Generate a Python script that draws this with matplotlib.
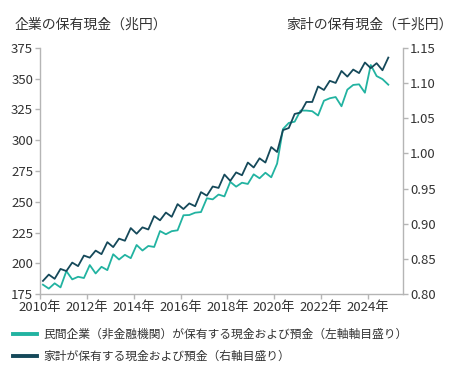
import matplotlib
matplotlib.use("Agg")
import matplotlib.pyplot as plt
from matplotlib.lines import Line2D
import pandas as pd

# ---- data (quarterly, 2010Q1 .. 2024Q4) ----
quarters = pd.period_range("2010Q1", periods=60, freq="Q")

# 民間企業（非金融機関）が保有する現金および預金 [兆円] (left axis)
corporate = [
    182.8, 179.6, 183.9, 180.6, 193.8, 187.1, 189.2, 188.2,
    198.7, 191.9, 197.3, 194.6, 207.5, 203.2, 207.0, 204.3,
    215.0, 210.5, 214.2, 213.4, 226.3, 223.7, 226.2, 226.9,
    239.1, 239.3, 241.2, 241.7, 252.9, 252.0, 255.9, 254.4,
    266.2, 262.3, 265.5, 264.5, 272.3, 269.1, 273.6, 269.9,
    281.0, 309.0, 314.0, 315.0, 324.0, 324.0, 323.5, 320.0,
    332.0, 334.0, 335.0, 327.5, 341.0, 344.8, 345.3, 338.5,
    361.0, 352.0, 349.5, 345.0,
]

# 家計が保有する現金および預金 [千兆円] (right axis)
household = [
    0.819, 0.828, 0.822, 0.836, 0.833, 0.845, 0.840, 0.855,
    0.852, 0.862, 0.857, 0.874, 0.867, 0.879, 0.876, 0.894,
    0.886, 0.895, 0.892, 0.911, 0.905, 0.916, 0.910, 0.928,
    0.921, 0.929, 0.925, 0.945, 0.940, 0.953, 0.951, 0.970,
    0.961, 0.973, 0.969, 0.987, 0.980, 0.993, 0.987, 1.009,
    1.002, 1.033, 1.036, 1.056, 1.058, 1.073, 1.073, 1.095,
    1.090, 1.103, 1.100, 1.117, 1.109, 1.119, 1.114, 1.129,
    1.121, 1.128, 1.118, 1.136,
]

left_ticks = [175, 200, 225, 250, 275, 300, 325, 350, 375]
right_ticks = [0.80, 0.85, 0.90, 0.95, 1.00, 1.05, 1.10, 1.15]
year_ticks = [2010, 2012, 2014, 2016, 2018, 2020, 2022, 2024]
year_labels = [f"{y}年" for y in year_ticks]

title_left = "企業の保有現金（兆円）"
title_right = "家計の保有現金（千兆円）"
legend_labels = [
    "民間企業（非金融機関）が保有する現金および預金（左軸軸目盛り）",
    "家計が保有する現金および預金（右軸目盛り）",
]

# ---- styling ----
TEAL = "#22b3a1"
DARK = "#15495a"
GRID = "#b5b5b5"
TXT = "#333333"
CJK = ["Noto Sans CJK JP", "DejaVu Sans"]
NUM = ["Liberation Sans Narrow", "Noto Sans CJK JP", "DejaVu Sans"]

plt.rcParams["font.family"] = CJK

x = [q.year + (q.quarter - 0.5) / 4 for q in quarters]

fig = plt.figure(figsize=(4.6, 3.82), dpi=100)
ax = fig.add_axes([0.087, 0.2296, 0.789, 0.6455])
ax2 = ax.twinx()

ax.plot(x, corporate, color=TEAL, lw=1.3, zorder=3)
ax2.plot(x, household, color=DARK, lw=1.3, zorder=3)

ax.set_xlim(2010, 2025.5)
ax.set_ylim(175, 375)
ax2.set_ylim(0.80, 1.15)

ax.set_yticks(left_ticks)
ax.set_yticklabels([str(v) for v in left_ticks])
ax2.set_yticks(right_ticks)
ax2.set_yticklabels([f"{v:.2f}" for v in right_ticks])
ax.set_xticks(year_ticks)
ax.set_xticklabels(year_labels)

for a in (ax, ax2):
    a.spines["top"].set_visible(False)
    for s in ("left", "right", "bottom"):
        a.spines[s].set_color(GRID)
        a.spines[s].set_linewidth(1.0)
    a.tick_params(colors=GRID, length=3.5, width=1.0, labelcolor=TXT, pad=1.5)
ax.spines["right"].set_visible(False)
ax2.spines["left"].set_visible(False)
ax2.spines["bottom"].set_visible(False)

for lab in ax.get_yticklabels() + ax2.get_yticklabels():
    lab.set_fontfamily(NUM)
    lab.set_fontsize(9.5)
for lab in ax.get_xticklabels():
    lab.set_fontfamily(NUM)
    lab.set_fontsize(9.5)

fig.text(15 / 460, 1 - 25 / 382, title_left, fontsize=10, color=TXT,
         ha="left", va="center")
fig.text(453 / 460, 1 - 25 / 382, title_right, fontsize=10, color=TXT,
         ha="right", va="center")

handles = [Line2D([], [], color=TEAL, lw=2.8), Line2D([], [], color=DARK, lw=2.8)]
leg = fig.legend(handles, legend_labels, loc="upper left",
                 bbox_to_anchor=(13 / 460, 1 - 328 / 382), frameon=False,
                 fontsize=8.5, handlelength=2.0, handletextpad=0.6,
                 labelspacing=0.75, borderaxespad=0, borderpad=0)
for t in leg.get_texts():
    t.set_color(TXT)

fig.savefig("out.png", dpi=100)
